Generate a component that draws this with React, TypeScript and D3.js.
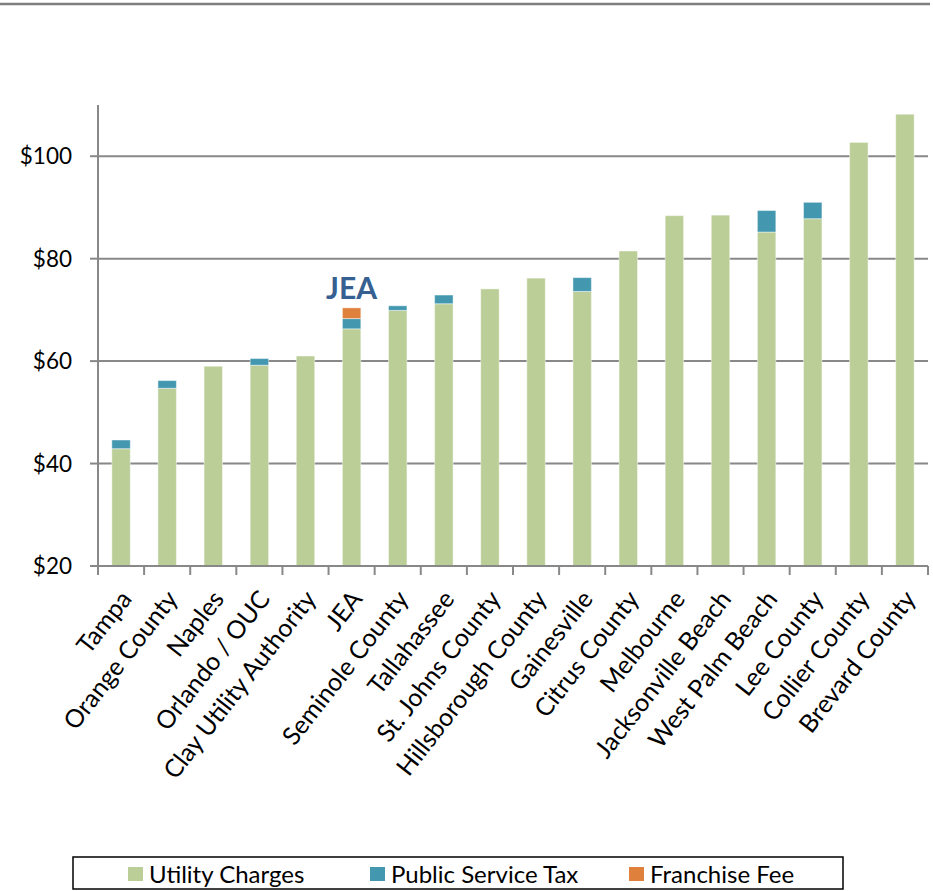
import React, { useEffect, useRef } from 'react';
import * as d3 from 'd3';

const categories = [
  'Tampa', 'Orange County', 'Naples', 'Orlando / OUC', 'Clay Utility Authority', 'JEA',
  'Seminole County', 'Tallahassee', 'St. Johns County', 'Hillsborough County', 'Gainesville',
  'Citrus County', 'Melbourne', 'Jacksonville Beach', 'West Palm Beach', 'Lee County',
  'Collier County', 'Brevard County',
];
const utilityCharges = [42.9, 54.7, 59.0, 59.2, 61.0, 66.3, 69.9, 71.2, 74.1, 76.2, 73.6, 81.5, 88.4, 88.5, 85.2, 87.8, 102.7, 108.2];
const publicServiceTax = [1.7, 1.5, 0, 1.3, 0, 2.0, 0.9, 1.7, 0, 0, 2.7, 0, 0, 0, 4.2, 3.2, 0, 0];
const franchiseFee = [0, 0, 0, 0, 0, 2.1, 0, 0, 0, 0, 0, 0, 0, 0, 0, 0, 0, 0];
const yTicks = [20, 40, 60, 80, 100];

const seriesNames = ['Utility Charges', 'Public Service Tax', 'Franchise Fee'];
const seriesColors = ['#BBCE97', '#4398B0', '#DF813D'];

const W = 933;
const H = 891;
const FONT = 'Lato, "Open Sans", sans-serif';

export default function App() {
  const svgRef = useRef<SVGSVGElement>(null);

  useEffect(() => {
    if (!svgRef.current) return;
    const svg = d3.select(svgRef.current);
    svg.selectAll('*').remove();

    const margin = { left: 98, right: 5, top: 105, bottom: 325 };
    const x = d3.scaleBand<string>()
      .domain(categories)
      .range([margin.left, W - margin.right])
      .paddingInner(0.6)
      .paddingOuter(0.3);
    const yMin = 20;
    const y = d3.scaleLinear().domain([yMin, 110]).range([H - margin.bottom, margin.top]);

    // top rule
    svg.append('line')
      .attr('x1', 0).attr('x2', 930).attr('y1', 4).attr('y2', 4)
      .attr('stroke', '#7f7f7f').attr('stroke-width', 2.5);

    // gridlines
    svg.append('g')
      .selectAll('line')
      .data(yTicks.slice(1))
      .join('line')
      .attr('x1', margin.left).attr('x2', W - margin.right)
      .attr('y1', d => y(d)).attr('y2', d => y(d))
      .attr('stroke', '#888').attr('stroke-width', 2);

    // stacked bars (axis starts at $20, so the bottom segment is clipped there)
    const table = categories.map((c, i) => ({
      name: c,
      'Utility Charges': utilityCharges[i],
      'Public Service Tax': publicServiceTax[i],
      'Franchise Fee': franchiseFee[i],
    }));
    const layers = d3.stack<any>().keys(seriesNames)(table);

    svg.append('g')
      .selectAll('g')
      .data(layers)
      .join('g')
      .attr('fill', (_, i) => seriesColors[i])
      .selectAll('rect')
      .data(d => d.filter(s => s[1] - s[0] > 0))
      .join('rect')
      .attr('x', d => x(d.data.name)!)
      .attr('width', x.bandwidth())
      .attr('y', d => y(d[1]))
      .attr('height', d => y(Math.max(d[0], yMin)) - y(d[1]))
      .attr('stroke', 'rgba(255,255,255,0.45)')
      .attr('stroke-width', 1);

    // y axis
    const yAxis = svg.append('g');
    yAxis.append('line')
      .attr('x1', margin.left).attr('x2', margin.left)
      .attr('y1', y(110)).attr('y2', y(yMin) + 9)
      .attr('stroke', '#888').attr('stroke-width', 2);
    yAxis.selectAll('line.tick')
      .data(yTicks)
      .join('line')
      .attr('class', 'tick')
      .attr('x1', margin.left - 8).attr('x2', margin.left)
      .attr('y1', d => y(d)).attr('y2', d => y(d))
      .attr('stroke', '#888').attr('stroke-width', 2);
    yAxis.selectAll('text')
      .data(yTicks)
      .join('text')
      .attr('x', 72)
      .attr('y', d => y(d))
      .attr('dy', '0.36em')
      .attr('text-anchor', 'end')
      .style('font-family', FONT)
      .style('font-size', '22.5px')
      .attr('fill', '#000')
      .text(d => `$${d}`);

    // x axis
    const step = x.step();
    const x0 = margin.left;
    const xAxis = svg.append('g');
    xAxis.append('line')
      .attr('x1', margin.left).attr('x2', W - margin.right)
      .attr('y1', y(yMin)).attr('y2', y(yMin))
      .attr('stroke', '#888').attr('stroke-width', 2);
    xAxis.selectAll('line.tick')
      .data(d3.range(categories.length + 1))
      .join('line')
      .attr('class', 'tick')
      .attr('x1', i => x0 + i * step).attr('x2', i => x0 + i * step)
      .attr('y1', y(yMin)).attr('y2', y(yMin) + 9)
      .attr('stroke', '#888').attr('stroke-width', 2);
    xAxis.selectAll('text')
      .data(categories)
      .join('text')
      .attr('transform', d => `translate(${x(d)! + x.bandwidth() / 2 + 5},${y(yMin) + 28}) rotate(-52)`)
      .attr('text-anchor', 'end')
      .attr('dy', '0.35em')
      .style('font-family', FONT)
      .style('font-size', '25px')
      .attr('fill', '#000')
      .text(d => d);

    // JEA callout
    svg.append('text')
      .attr('x', x('JEA')! + x.bandwidth() / 2)
      .attr('y', y(utilityCharges[5] + publicServiceTax[5] + franchiseFee[5]) - 9)
      .attr('text-anchor', 'middle')
      .style('font-family', FONT)
      .style('font-weight', 'bold')
      .style('font-size', '30px')
      .attr('fill', '#365F92')
      .text('JEA');

    // legend
    const legend = svg.append('g');
    legend.append('rect')
      .attr('x', 73).attr('y', 857).attr('width', 770).attr('height', 32)
      .attr('fill', '#fff').attr('stroke', '#000').attr('stroke-width', 1.5);
    const legendX = [128, 370, 629];
    const items = legend.selectAll('g.item')
      .data(seriesNames)
      .join('g')
      .attr('class', 'item')
      .attr('transform', (_, i) => `translate(${legendX[i]},867)`);
    items.append('rect')
      .attr('width', 15).attr('height', 14)
      .attr('fill', (_, i) => seriesColors[i]);
    items.append('text')
      .attr('x', 21).attr('y', 7)
      .attr('dy', '0.36em')
      .style('font-family', FONT)
      .style('font-size', '24px')
      .attr('fill', '#000')
      .text(d => d);
  }, []);

  return (
    <div style={{ position: 'absolute', left: 0, top: 0 }}>
      <svg ref={svgRef} width={W} height={H} style={{ display: 'block', background: '#fff' }} />
    </div>
  );
}
